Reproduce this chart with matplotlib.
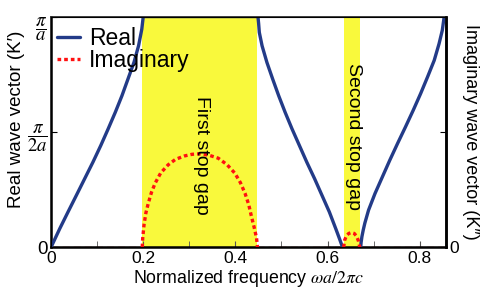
import numpy as np
import matplotlib
matplotlib.use("Agg")
import matplotlib.pyplot as plt
from matplotlib.ticker import MultipleLocator
from matplotlib.transforms import ScaledTranslation

plt.rcParams['font.family'] = ['Liberation Sans', 'DejaVu Sans']
plt.rcParams['mathtext.fontset'] = 'stix'

# normalized frequency wa/2pic and wave vector in units of pi/a
band1_f = [0.0, 0.0188, 0.0369, 0.055, 0.073, 0.091, 0.108, 0.124, 0.1395, 0.154,
           0.167, 0.18, 0.19, 0.197, 0.1996, 0.2, 0.449]
band1_k = [0.0, 0.08, 0.153, 0.225, 0.297, 0.369, 0.441, 0.513, 0.585, 0.657,
           0.729, 0.801, 0.873, 0.945, 0.99, 1.0, 1.0]
band2_f = [0.449, 0.4505, 0.452, 0.458, 0.4685, 0.481, 0.494, 0.508, 0.523, 0.539,
           0.555, 0.572, 0.588, 0.604, 0.618, 0.626, 0.631, 0.632]
band2_k = [1.0, 0.97, 0.931, 0.873, 0.801, 0.729, 0.657, 0.585, 0.513, 0.441,
           0.369, 0.297, 0.225, 0.153, 0.08, 0.037, 0.009, 0.0]
band3_f = [0.672, 0.6728, 0.6746, 0.6775, 0.681, 0.689, 0.703, 0.719, 0.735, 0.752,
           0.769, 0.786, 0.802, 0.817, 0.8315, 0.842, 0.849, 0.8525, 0.853]
band3_k = [0.0, 0.02, 0.046, 0.075, 0.105, 0.161, 0.233, 0.305, 0.377, 0.45,
           0.521, 0.594, 0.666, 0.738, 0.81, 0.882, 0.94, 0.99, 1.0]

gap1_f = [0.198, 0.199, 0.202, 0.206, 0.211, 0.218, 0.226, 0.238, 0.254, 0.27, 0.29,
          0.306, 0.323, 0.343, 0.363, 0.382, 0.399, 0.411, 0.421, 0.429, 0.435, 0.441,
          0.446, 0.448]
gap1_k = [0.0, 0.04, 0.1, 0.15, 0.19, 0.238, 0.278, 0.322, 0.357, 0.381, 0.396,
          0.403, 0.405, 0.399, 0.386, 0.358, 0.321, 0.28, 0.234, 0.185, 0.133, 0.085,
          0.04, 0.0]
gap2_f = [0.635, 0.637, 0.641, 0.646, 0.652, 0.658, 0.663, 0.667, 0.67]
gap2_k = [0.0, 0.03, 0.05, 0.06, 0.064, 0.06, 0.048, 0.028, 0.0]

gaps = [(0.197, 0.448), (0.635, 0.67)]
gap_names = ['First stop gap', 'Second stop gap']
gap_text_y = [0.40, 0.48]
passbands = [(0.0, 0.198), (0.448, 0.635), (0.67, 0.856)]

navy = '#233b88'
red = '#ff1010'
yellow = '#f9f93c'

fig = plt.figure(figsize=(4.98, 2.9), dpi=100)
ax = fig.add_axes([0.1024, 0.1472, 0.7922, 0.7959])

for (a, b) in gaps:
    ax.axvspan(a, b, color=yellow, lw=0, zorder=0)

for (a, b) in passbands:
    ax.plot([a, b], [0, 0], color='#e8504a', lw=1.0, dashes=(5, 3), zorder=2)

line_kw = dict(color=navy, lw=2.4, solid_joinstyle='round', solid_capstyle='round', zorder=3)
ax.plot(band1_f, band1_k, label='Real', **line_kw)
ax.plot(band2_f, band2_k, **line_kw)
ax.plot(band3_f, band3_k, **line_kw)
ax.plot(gap1_f, gap1_k, color=red, lw=2.4, dashes=(1.1, 0.9), label='Imaginary', zorder=3)
ax.plot(gap2_f, gap2_k, color=red, lw=2.4, dashes=(1.1, 0.9), zorder=3)

for (a, b), name, ty in zip(gaps, gap_names, gap_text_y):
    ax.text((a + b) / 2 + 0.003, ty, name, rotation=270, ha='center', va='center',
            fontsize=14, zorder=4)

ax.set_xlim(0, 0.856)
ax.set_ylim(0, 1)
ax.xaxis.set_major_locator(MultipleLocator(0.2))
ax.xaxis.set_minor_locator(MultipleLocator(0.1))
ax.set_xticks([0, 0.2, 0.4, 0.6, 0.8])
ax.set_xticklabels(['0', '0.2', '0.4', '0.6', '0.8'])
ax.set_yticks([0, 0.5, 1])
ax.set_yticklabels(['0', r'$\dfrac{\pi}{2a}$', r'$\dfrac{\pi}{a}$'])
ax.tick_params(axis='both', which='both', direction='in', labelsize=12.5)
ax.tick_params(axis='x', which='both', length=4, color='#555555', pad=3)
ax.tick_params(axis='y', length=4, pad=2.5, labelsize=13.5)

for s in ['left', 'bottom', 'right']:
    ax.spines[s].set_linewidth(1.8)
ax.spines['top'].set_linewidth(1.3)
ax.spines['top'].set_color('#333333')

ax.set_xlabel(r'Normalized frequency $\omega a/2\pi c$', fontsize=12.8, labelpad=1)
ax.set_ylabel('Real wave vector (K\u2032)', fontsize=13.5)
ax.yaxis.set_label_coords(-0.066, 0.555)

ax2 = ax.twinx()
ax2.set_ylim(0, 1)
ax2.set_yticks([0, 0.5])
ax2.set_yticklabels(['0', ''])
ax2.tick_params(axis='y', direction='in', length=4, labelsize=12.5, pad=3)
ax2.spines['right'].set_linewidth(1.8)
ax2.set_ylabel('Imaginary wave vector (K\u2033)', fontsize=13, rotation=270, labelpad=14)

ax.legend(loc='upper left', bbox_to_anchor=(0.0, 0.978), frameon=False, fontsize=16.5,
          handlelength=1.0, handletextpad=0.4, labelspacing=-0.05, borderpad=0.25,
          borderaxespad=0.0)

# the pi/a label sits a little below the top of the axis in the original
top_lab = ax.get_yticklabels()[2]
top_lab.set_transform(top_lab.get_transform() + ScaledTranslation(0, -0.08, fig.dpi_scale_trans))

fig.savefig('out.png', dpi=100)
